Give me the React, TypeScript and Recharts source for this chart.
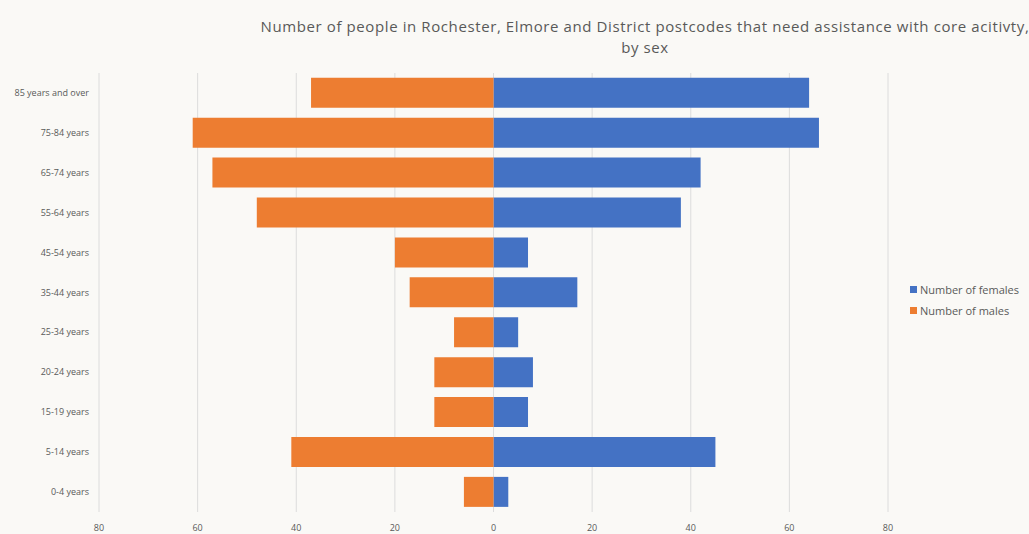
import React from 'react';
import {
  BarChart,
  Bar,
  XAxis,
  YAxis,
  CartesianGrid,
} from 'recharts';

const ageGroups = [
  '85 years and over',
  '75-84 years',
  '65-74 years',
  '55-64 years',
  '45-54 years',
  '35-44 years',
  '25-34 years',
  '20-24 years',
  '15-19 years',
  '5-14 years',
  '0-4 years',
];
const females = [64, 66, 42, 38, 7, 17, 5, 8, 7, 45, 3];
const males = [37, 61, 57, 48, 20, 17, 8, 12, 12, 41, 6];
const xTicks = [-80, -60, -40, -20, 0, 20, 40, 60, 80];

const data = ageGroups.map((age, i) => ({
  age,
  females: females[i],
  males: -males[i],
}));

const FEMALE = '#4472C4';
const MALE = '#ED7D31';
const TEXT = '#595959';

const legendItems = [
  { label: 'Number of females', color: FEMALE },
  { label: 'Number of males', color: MALE },
];

// plain text tick so the long label doesn't wrap
const AgeTick = (props: any) => {
  const { x, y, payload } = props;
  return (
    <text x={x} y={y} dy={3} textAnchor="end" fill={TEXT} fontSize={9}>
      {payload.value}
    </text>
  );
};

export default function App() {
  return (
    <div
      style={{
        position: 'absolute',
        left: 0,
        top: 0,
        width: 1029,
        height: 534,
        overflow: 'hidden',
        background: '#faf9f6',
        fontFamily: '"Open Sans", sans-serif',
      }}
    >
      <div
        style={{
          position: 'absolute',
          left: 245,
          top: 16,
          width: 800,
          textAlign: 'center',
          fontSize: 15,
          letterSpacing: 0.6,
          lineHeight: '21px',
          color: TEXT,
          whiteSpace: 'nowrap',
        }}
      >
        Number of people in Rochester, Elmore and District postcodes that need assistance with core acitivty,
        <br />
        by sex
      </div>
      <BarChart
        width={1029}
        height={534}
        data={data}
        layout="vertical"
        stackOffset="sign"
        barCategoryGap="12%"
        margin={{ top: 73, right: 141, bottom: 2, left: 0 }}
      >
        <CartesianGrid horizontal={false} stroke="#dcdcdc" />
        <XAxis
          type="number"
          domain={[-80, 80]}
          ticks={xTicks}
          tickFormatter={(v) => String(Math.abs(v))}
          tick={{ fill: TEXT, fontSize: 9 }}
          tickLine={false}
          axisLine={false}
          tickMargin={7}
          height={20}
        />
        <YAxis
          type="category"
          dataKey="age"
          width={99}
          tick={<AgeTick />}
          tickLine={false}
          axisLine={false}
          tickMargin={4}
        />
        <Bar dataKey="females" name="Number of females" stackId="a" fill={FEMALE} isAnimationActive={false} />
        <Bar dataKey="males" name="Number of males" stackId="a" fill={MALE} isAnimationActive={false} />
      </BarChart>
      <div style={{ position: 'absolute', left: 910, top: 279, fontSize: 11, color: TEXT }}>
        {legendItems.map((it) => (
          <div key={it.label} style={{ display: 'flex', alignItems: 'center', height: 21 }}>
            <span style={{ width: 7, height: 7, background: it.color, marginRight: 3 }} />
            {it.label}
          </div>
        ))}
      </div>
    </div>
  );
}
